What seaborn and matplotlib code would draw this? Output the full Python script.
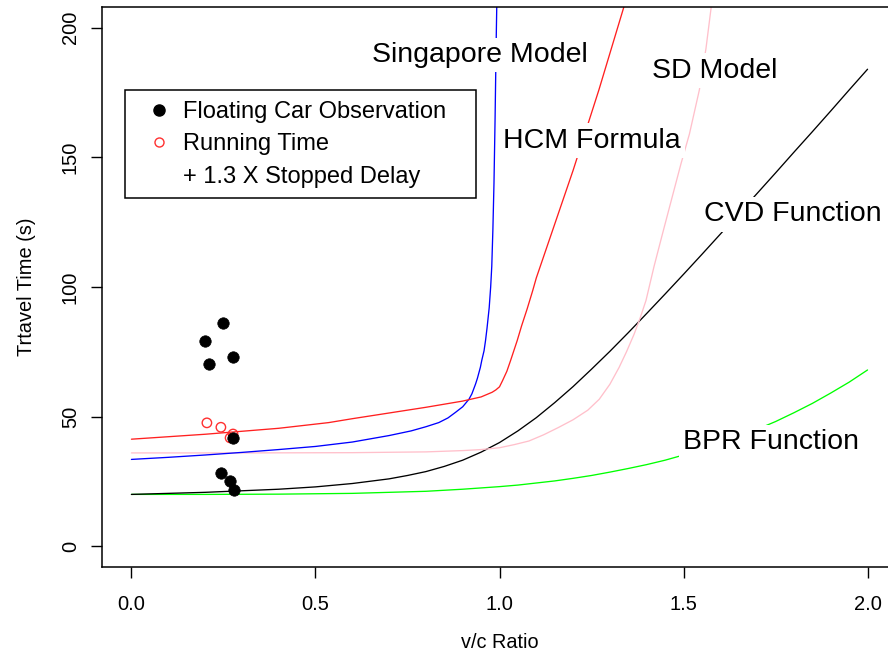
import numpy as np
import pandas as pd
import matplotlib
matplotlib.use("Agg")
import matplotlib.pyplot as plt
import seaborn as sns
from matplotlib.lines import Line2D

# observed points (v/c ratio, travel time in s)
obs_vc = [0.201, 0.210, 0.248, 0.275, 0.277, 0.244, 0.269, 0.278]
obs_tt = [79.3, 70.3, 86.3, 73.1, 41.8, 28.4, 25.0, 21.8]

# running time + 1.3 x stopped delay
run_vc = [0.205, 0.243, 0.268, 0.276]
run_tt = [47.6, 45.9, 41.8, 43.3]

# model curves
bpr_vc = [0.0, 0.2, 0.4, 0.6, 0.8, 0.9, 1.0, 1.05, 1.1, 1.15, 1.2, 1.25, 1.3, 1.35, 1.4, 1.45,
          1.5, 1.55, 1.6, 1.65, 1.7, 1.75, 1.8, 1.85, 1.9, 1.95, 2.0]
bpr_tt = [20.0, 20.0, 20.1, 20.4, 21.2, 22.0, 23.0, 23.6, 24.4, 25.2, 26.2, 27.3, 28.6, 30.0, 31.5, 33.2,
          35.2, 37.3, 39.7, 42.2, 45.1, 48.1, 51.5, 55.1, 59.1, 63.3, 68.0]

cvd_vc = [0.0, 0.2, 0.4, 0.5, 0.6, 0.7, 0.75, 0.8, 0.85, 0.9, 0.95, 1.0, 1.05, 1.1, 1.15, 1.2,
          1.25, 1.3, 1.35, 1.4, 1.45, 1.5, 1.55, 1.6, 1.65, 1.7, 1.75, 1.8, 1.85, 1.9, 1.95, 2.0]
cvd_tt = [20.0, 20.8, 22.0, 22.9, 24.2, 26.0, 27.3, 28.8, 30.8, 33.2, 36.3, 40.0, 44.5, 49.6, 55.4, 61.6,
          68.3, 75.2, 82.4, 89.8, 97.3, 104.9, 112.6, 120.4, 128.2, 136.1, 144.0, 152.0, 159.9, 167.9, 176.0, 184.0]

sg_vc = [0.0, 0.1, 0.2, 0.3, 0.4, 0.5, 0.6, 0.7, 0.76, 0.8, 0.835, 0.86, 0.88, 0.9, 0.917, 0.925,
         0.935, 0.94, 0.948, 0.952, 0.958, 0.962, 0.966, 0.972, 0.976, 0.979, 0.982, 0.985, 0.988,
         0.991, 0.993]
sg_tt = [33.5, 34.3, 35.2, 36.2, 37.3, 38.5, 40.2, 42.7, 44.5, 46.1, 47.7, 49.5, 51.6, 53.8, 56.7, 58.8,
         62.6, 64.8, 69.0, 71.8, 75.4, 79.3, 84.0, 92.0, 100.0, 108.0, 122.0, 140.0, 165.0,
         195.0, 212.0]

hcm_vc = [0.0, 0.2, 0.4, 0.536, 0.6, 0.7, 0.8, 0.9, 0.95, 0.98, 0.99, 1.0, 1.008, 1.02, 1.03,
          1.048, 1.06, 1.075, 1.09, 1.1, 1.2, 1.27, 1.34]
hcm_tt = [41.3, 43.2, 45.5, 47.7, 49.2, 51.4, 53.6, 56.0, 57.6, 59.4, 60.3, 61.5, 63.8, 67.5, 71.6,
          79.3, 85.0, 91.5, 98.5, 103.5, 145.0, 176.0, 209.0]

sd_vc = [0.0, 0.3, 0.6, 0.8, 0.9, 0.95, 1.0, 1.04, 1.08, 1.12, 1.16, 1.2, 1.24, 1.271, 1.3, 1.325,
         1.345, 1.366, 1.382, 1.398, 1.42, 1.443, 1.466, 1.493, 1.516, 1.543, 1.561, 1.577]
sd_tt = [36.0, 36.0, 36.1, 36.4, 36.9, 37.3, 38.0, 39.2, 40.6, 43.0, 45.8, 48.8, 52.5, 56.7, 62.5, 69.0,
         75.0, 81.9, 88.0, 94.8, 108.0, 120.6, 133.0, 147.5, 159.0, 176.0, 192.0, 210.0]

curves = {
    "BPR": (bpr_vc, bpr_tt, "#00ff00"),
    "CVD": (cvd_vc, cvd_tt, "black"),
    "SD": (sd_vc, sd_tt, "#ffc0cb"),
    "Singapore": (sg_vc, sg_tt, "#0000ff"),
    "HCM": (hcm_vc, hcm_tt, "#ff2020"),
}

frames = []
for name, (vc, tt, col) in curves.items():
    frames.append(pd.DataFrame({"vc": vc, "tt": tt, "model": name}))
df = pd.concat(frames, ignore_index=True)
pal = {k: v[2] for k, v in curves.items()}

obs = pd.DataFrame({"vc": obs_vc, "tt": obs_tt})
run = pd.DataFrame({"vc": run_vc, "tt": run_tt})

sns.set_style("ticks")
plt.rcParams['font.family'] = ['Liberation Sans', 'DejaVu Sans']
plt.rcParams.update({"text.color": "black", "axes.labelcolor": "black",
                     "xtick.color": "black", "ytick.color": "black",
                     "axes.edgecolor": "black"})

fig = plt.figure(figsize=(8.88, 6.6), dpi=100)
ax = fig.add_axes([102/888, 93/660, 795/888, 560/660])

sns.lineplot(data=df, x="vc", y="tt", hue="model", palette=pal, units="model",
             estimator=None, sort=False, legend=False, lw=0.95, ax=ax)
sns.scatterplot(data=obs, x="vc", y="tt", color="black", s=68, edgecolor="black",
                linewidth=0.5, ax=ax, zorder=4)
sns.scatterplot(data=run, x="vc", y="tt", facecolor="none", edgecolor="#ff3030",
                s=46, linewidth=1.0, ax=ax, zorder=3)

ax.set_xlim(-0.08, 2.08)
ax.set_ylim(-8, 208)
ax.set_xticks([0.0, 0.5, 1.0, 1.5, 2.0])
ax.set_xticklabels(["0.0", "0.5", "1.0", "1.5", "2.0"])
ax.set_yticks([0, 50, 100, 150, 200])
ax.tick_params(axis="x", direction="out", length=8, width=1, pad=12, labelsize=14.5, bottom=True)
ax.tick_params(axis="y", direction="out", length=8, width=1, pad=8, labelsize=14.5, left=True)
plt.setp(ax.get_yticklabels(), rotation=90, va="center")
for sp in ax.spines.values():
    sp.set_visible(True)
    sp.set_color("black")
    sp.set_linewidth(1.1)

ax.set_xlabel("v/c Ratio", fontsize=14.3, labelpad=14)
ax.set_ylabel("Trtavel Time (s)", fontsize=14.4, labelpad=18)

lab_box = dict(facecolor="white", edgecolor="none", pad=3)
labels = [
    ("Singapore Model", 0.947, 189.5),
    ("HCM Formula", 1.252, 156.5),
    ("SD Model", 1.584, 183.5),
    ("CVD Function", 1.796, 128.0),
    ("BPR Function", 1.739, 40.2),
]
for txt, x, y in labels:
    ax.text(x, y, txt, fontsize=20.5, ha="center", va="center", bbox=lab_box, zorder=5)

handles = [
    Line2D([], [], ls="none", marker="o", color="black", markersize=8),
    Line2D([], [], ls="none", marker="o", markerfacecolor="none",
           markeredgecolor="#ff3030", markersize=6.5),
    Line2D([], [], ls="none"),
]
leg = ax.legend(handles, ["Floating Car Observation   ", "Running Time", "+ 1.3 X Stopped Delay"],
                loc="upper left", bbox_to_anchor=(0.029, 0.851), borderaxespad=0,
                fontsize=17, frameon=True, fancybox=False, framealpha=1,
                edgecolor="black", handlelength=2.0, handletextpad=0.0,
                labelspacing=0.45, borderpad=0.44)
leg.get_frame().set_linewidth(1.1)

fig.savefig("out.png", dpi=100)
